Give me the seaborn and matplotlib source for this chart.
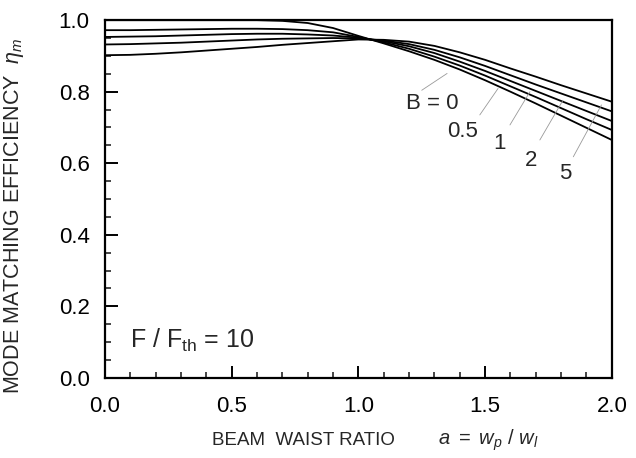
import seaborn as sns
import pandas as pd
import matplotlib.pyplot as plt
from matplotlib.ticker import MultipleLocator

# beam waist ratio a = wp / wl
ratio = [0.0, 0.1, 0.2, 0.3, 0.4, 0.5, 0.6, 0.7, 0.8, 0.9, 1.0,
         1.1, 1.2, 1.3, 1.4, 1.5, 1.6, 1.7, 1.8, 1.9, 2.0]

# mode matching efficiency, one list per B value
eta_b0 = [1.000, 1.000, 1.000, 1.000, 1.000, 1.000, 1.000, 0.998, 0.992, 0.978, 0.956,
          0.935, 0.913, 0.889, 0.862, 0.832, 0.800, 0.767, 0.733, 0.699, 0.665]
eta_b05 = [0.972, 0.972, 0.973, 0.974, 0.975, 0.976, 0.976, 0.975, 0.972, 0.966, 0.953,
           0.938, 0.920, 0.898, 0.873, 0.845, 0.815, 0.785, 0.754, 0.723, 0.693]
eta_b1 = [0.953, 0.954, 0.955, 0.957, 0.959, 0.961, 0.962, 0.962, 0.960, 0.957, 0.951,
          0.941, 0.927, 0.908, 0.884, 0.858, 0.830, 0.802, 0.774, 0.746, 0.718]
eta_b2 = [0.932, 0.933, 0.935, 0.937, 0.940, 0.943, 0.946, 0.948, 0.949, 0.950, 0.949,
          0.943, 0.933, 0.917, 0.896, 0.872, 0.846, 0.820, 0.795, 0.770, 0.745]
eta_b5 = [0.902, 0.903, 0.906, 0.910, 0.915, 0.920, 0.925, 0.931, 0.936, 0.941, 0.946,
          0.945, 0.940, 0.928, 0.910, 0.889, 0.865, 0.842, 0.818, 0.795, 0.772]

b_labels = ["B = 0", "0.5", "1", "2", "5"]
label_x = [1.29, 1.41, 1.555, 1.68, 1.815]
label_y = [0.768, 0.688, 0.655, 0.607, 0.57]
# thin leader lines from each label to its curve
lead_x0 = [1.25, 1.479, 1.598, 1.716, 1.848]
lead_y0 = [0.804, 0.735, 0.707, 0.665, 0.618]
lead_x1 = [1.35, 1.551, 1.677, 1.807, 1.959]
lead_y1 = [0.851, 0.809, 0.800, 0.776, 0.763]

curves = {"0": eta_b0, "0.5": eta_b05, "1": eta_b1, "2": eta_b2, "5": eta_b5}
rows = []
for b, vals in curves.items():
    for a, e in zip(ratio, vals):
        rows.append({"a": a, "eta": e, "B": b})
df = pd.DataFrame(rows)

sns.set_style("ticks")
plt.rcParams['font.family'] = ['Liberation Sans', 'DejaVu Sans']
plt.rcParams['mathtext.fontset'] = 'custom'
plt.rcParams['mathtext.rm'] = 'Liberation Sans'
plt.rcParams['mathtext.it'] = 'Liberation Sans:italic'

fig = plt.figure(figsize=(6.36, 4.58), dpi=100)
ax = fig.add_axes([0.165, 0.175, 0.797, 0.781])

sns.lineplot(data=df, x="a", y="eta", hue="B", palette=["black"] * 5,
             estimator=None, sort=False, linewidth=1.3, legend=False, ax=ax)

for i in range(len(b_labels)):
    ax.plot([lead_x0[i], lead_x1[i]], [lead_y0[i], lead_y1[i]],
            color="0.6", linewidth=0.6)
    ax.text(label_x[i], label_y[i], b_labels[i], fontsize=16,
            ha="center", va="center")

ax.text(0.1, 0.106, r"F / F$_{\mathrm{th}}$ = 10", fontsize=18, va="center")

ax.set_xlim(0, 2)
ax.set_ylim(0, 1)
ax.xaxis.set_major_locator(MultipleLocator(0.5))
ax.xaxis.set_minor_locator(MultipleLocator(0.1))
ax.yaxis.set_major_locator(MultipleLocator(0.2))
ax.yaxis.set_minor_locator(MultipleLocator(0.05))
ax.xaxis.set_major_formatter(plt.FormatStrFormatter("%.1f"))
ax.yaxis.set_major_formatter(plt.FormatStrFormatter("%.1f"))
ax.tick_params(which="major", direction="in", length=9, width=1.4,
               labelsize=16, colors="black")
ax.tick_params(axis="x", which="major", pad=13)
ax.tick_params(axis="y", which="major", pad=11)
ax.tick_params(which="minor", direction="in", length=4.5, width=1.2)
for s in ax.spines.values():
    s.set_linewidth(1.6)
    s.set_color("black")

ax.set_xlabel("BEAM  WAIST RATIO", fontsize=13.5, ha="left", va="center")
ax.xaxis.set_label_coords((212 - 105) / 507, -0.174)
fig.text(438 / 636, 1 - 440 / 458, r"$a\ =\ w_p\ /\ w_l$", fontsize=14.5,
         ha="left", va="center")
ax.set_ylabel(r"MODE MATCHING EFFICIENCY  $\eta_m$", fontsize=15.5,
              va="center", ha="center")
ax.yaxis.set_label_coords((14 - 105) / 507, (378 - 216) / 358)

fig.savefig("out.png", dpi=100)
